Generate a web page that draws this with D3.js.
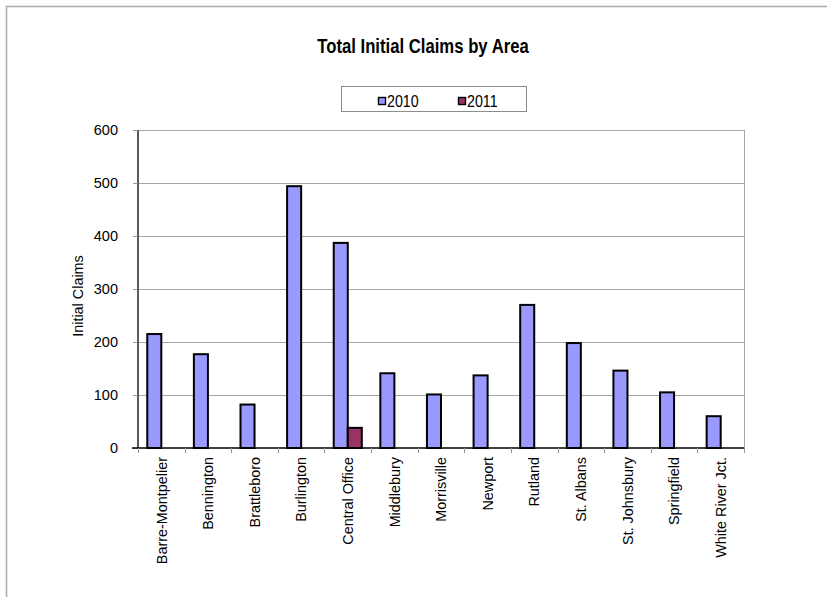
<!DOCTYPE html>
<html>
<head>
<meta charset="utf-8">
<script src="https://cdn.jsdelivr.net/npm/d3@7"></script>
<style>
  html, body { margin: 0; padding: 0; background: #fff; }
  text { font-family: "Liberation Sans", Arial, sans-serif; fill: #000; }
</style>
</head>
<body>
<svg id="chart" width="827" height="597"></svg>
<script>
const categories = ["Barre-Montpelier", "Bennington", "Brattleboro", "Burlington", "Central Office",
  "Middlebury", "Morrisville", "Newport", "Rutland", "St. Albans", "St. Johnsbury", "Springfield", "White River Jct."];
const seriesNames = ["2010", "2011"];
const values2010 = [215, 177, 82, 494, 387, 141, 101, 137, 270, 198, 146, 105, 60];
const values2011 = [null, null, null, null, 38, null, null, null, null, null, null, null, null];
const yTicks = [0, 100, 200, 300, 400, 500, 600];
const colors = ["#9999FF", "#993366"];
const titleText = "Total Initial Claims by Area";
const yAxisTitle = "Initial Claims";

const svg = d3.select("#chart");
const W = 827, H = 597;
const plot = { left: 138, right: 744, top: 130, bottom: 448 };

// outer frame
svg.append("path")
  .attr("d", `M6.5,${H} L6.5,6.5 L${W},6.5`)
  .attr("fill", "none").attr("stroke", "#aaaaaa").attr("stroke-width", 1.5);

const x0 = d3.scaleBand().domain(categories).range([plot.left, plot.right]).padding(0);
const x1 = d3.scaleBand().domain(seriesNames).range([0, x0.bandwidth()]).paddingInner(0).paddingOuter(0.66);
const y = d3.scaleLinear().domain([0, 600]).range([plot.bottom, plot.top]);

// gridlines
svg.append("g").selectAll("line").data(yTicks.filter(d => d > 0)).join("line")
  .attr("x1", plot.left).attr("x2", plot.right)
  .attr("y1", d => Math.round(y(d)) + 0.5).attr("y2", d => Math.round(y(d)) + 0.5)
  .attr("stroke", "#a6a6a6").attr("stroke-width", 1);
// right border of plot
svg.append("line")
  .attr("x1", plot.right + 0.5).attr("x2", plot.right + 0.5)
  .attr("y1", plot.top).attr("y2", plot.bottom)
  .attr("stroke", "#a6a6a6").attr("stroke-width", 1);

// bars
const seriesData = [values2010, values2011];
const groups = svg.append("g").selectAll("g").data(categories).join("g")
  .attr("transform", d => `translate(${x0(d)},0)`);
groups.selectAll("rect")
  .data((c, i) => seriesNames.map((s, j) => ({ s, j, v: seriesData[j][i] })).filter(d => d.v != null))
  .join("rect")
  .attr("x", d => x1(d.s))
  .attr("width", x1.bandwidth())
  .attr("y", d => y(d.v))
  .attr("height", d => y(0) - y(d.v))
  .attr("fill", d => colors[d.j])
  .attr("stroke", "#000").attr("stroke-width", 2);

// y axis
const yAxis = d3.axisLeft(y).tickValues(yTicks).tickSize(5).tickPadding(15).tickFormat(d3.format("d"));
const gy = svg.append("g").attr("transform", `translate(${plot.left},0)`).call(yAxis);
gy.select(".domain").attr("stroke", "#000").attr("stroke-width", 1.3).attr("d", `M0,${plot.top}V${plot.bottom}`);
gy.selectAll(".tick line").attr("stroke", "#999");
gy.selectAll(".tick text").attr("font-size", "14.5px").attr("fill", "#000")
  .style("font-family", '"Liberation Sans", Arial, sans-serif');

// x axis
const gx = svg.append("g").attr("transform", `translate(0,${plot.bottom})`);
gx.append("line").attr("x1", plot.left - 6).attr("x2", plot.right)
  .attr("y1", 0).attr("y2", 0).attr("stroke", "#000").attr("stroke-width", 1.3);
const boundaries = categories.map(c => x0(c)).concat([plot.right]);
gx.selectAll("line.tk").data(boundaries).join("line").attr("class", "tk")
  .attr("x1", d => Math.round(d) + 0.5).attr("x2", d => Math.round(d) + 0.5)
  .attr("y1", 0).attr("y2", 5).attr("stroke", "#999");
gx.selectAll("text").data(categories).join("text")
  .attr("transform", d => `translate(${x0(d) + x0.bandwidth() / 2},9) rotate(-90) scale(0.96,1)`)
  .attr("text-anchor", "end").attr("dy", "0.35em")
  .attr("font-size", "15px").text(d => d);

// y axis title
svg.append("text")
  .attr("transform", `translate(78,296) rotate(-90) scale(0.96,1)`)
  .attr("text-anchor", "middle").attr("dy", "0.35em")
  .attr("font-size", "15px").text(yAxisTitle);

// title
svg.append("text")
  .attr("transform", `translate(423,52.7) scale(0.795,1)`)
  .attr("text-anchor", "middle").attr("font-weight", "bold")
  .attr("font-size", "21px").text(titleText);

// legend
const lg = svg.append("g");
lg.append("rect").attr("x", 341.5).attr("y", 86.5).attr("width", 185).attr("height", 25)
  .attr("fill", "#fff").attr("stroke", "#8c8c8c").attr("stroke-width", 1);
const legendX = [378, 458];
const items = lg.selectAll("g.item").data(seriesNames).join("g").attr("class", "item")
  .attr("transform", (d, i) => `translate(${legendX[i]},0)`);
items.append("rect").attr("x", 0.5).attr("y", 97.5).attr("width", 7).attr("height", 7)
  .attr("fill", (d, i) => colors[i]).attr("stroke", "#000").attr("stroke-width", 1.4);
items.append("text")
  .attr("transform", "translate(9,106.7) scale(0.89,1)")
  .attr("font-size", "16px").text(d => d);
</script>
</body>
</html>
